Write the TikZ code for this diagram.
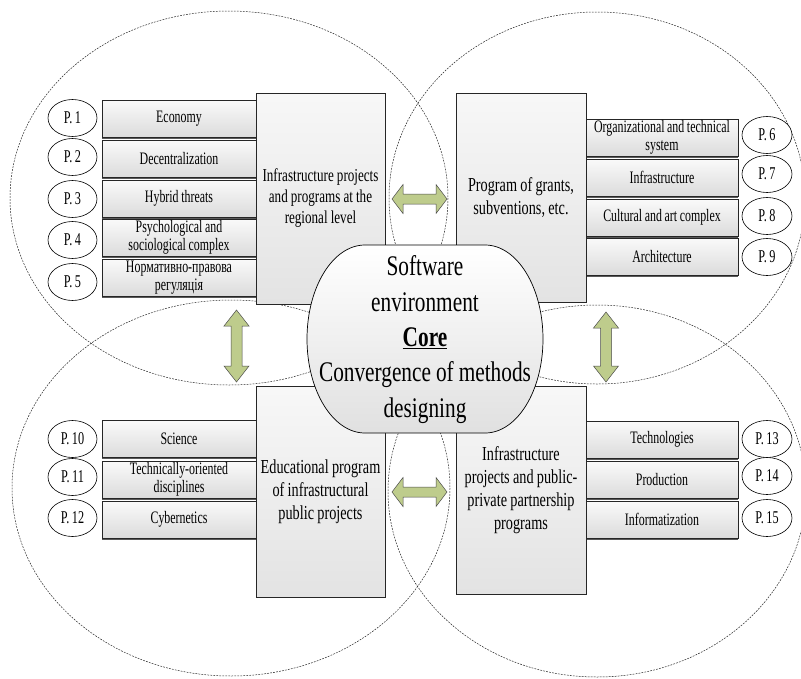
\documentclass[tikz,border=0pt]{standalone}
\usepackage{fontspec}
\setmainfont{Liberation Serif}[FakeStretch=0.75]
\newfontfamily\smallfnt{Liberation Serif}[FakeStretch=0.68]
\newfontfamily\bigfnt{Liberation Serif}[FakeStretch=0.72]
\newcommand\boxfont{\smallfnt\fontsize{17.5}{17.5}\selectfont\spaceskip 2.6pt\relax}
\newcommand\pfont{\smallfnt\fontsize{18}{18}\selectfont\spaceskip 2.6pt\relax}
\newcommand\grpfont{\bigfnt\fontsize{19.8}{23}\selectfont\spaceskip 3.3pt\relax}
\newcommand\grpfontsmall{\bigfnt\fontsize{18.2}{21}\selectfont\spaceskip 3.1pt\relax}
\newcommand\corefont{\fontsize{28.4}{35.4}\selectfont\spaceskip 5pt\relax}
\usetikzlibrary{shapes.geometric,shadows}
\definecolor{arrowgreen}{RGB}{190,204,140}
\newcommand\hdarrow[3]{% x1 x2 y
  \draw[blockarrow] (#1,#3) -- ({#1+11},{#3-14.5}) -- ({#1+11},{#3-5}) -- ({#2-11},{#3-5})
    -- ({#2-11},{#3-14.5}) -- (#2,#3) -- ({#2-11},{#3+14.5}) -- ({#2-11},{#3+5})
    -- ({#1+11},{#3+5}) -- ({#1+11},{#3+14.5}) -- cycle;}
\newcommand\vdarrow[3]{% x y1 y2
  \draw[blockarrow] (#1,#2) -- ({#1+12.5},{#2+16}) -- ({#1+5.5},{#2+16}) -- ({#1+5.5},{#3-16})
    -- ({#1+12.5},{#3-16}) -- (#1,#3) -- ({#1-12.5},{#3-16}) -- ({#1-5.5},{#3-16})
    -- ({#1-5.5},{#2+16}) -- ({#1-12.5},{#2+16}) -- cycle;}
\begin{document}
\begin{tikzpicture}[x=1pt,y=-1pt]
\tikzset{
  zone/.style={draw=black!85, line width=0.5pt, dash pattern=on 1.8pt off 1.2pt},
  sbox/.style={draw=black!85, line width=0.7pt, top color=black!2, bottom color=black!14,
    minimum width=154pt, minimum height=37pt, inner sep=0pt, align=center,
    font=\boxfont, drop shadow={shadow xshift=0pt, shadow yshift=-1.8pt, fill=black!65, opacity=1}},
  bbox/.style={draw=black!85, line width=0.7pt, top color=black!3, bottom color=black!11,
    inner sep=0pt, align=center, font=\grpfont,
    drop shadow={shadow xshift=1pt, shadow yshift=-1pt, fill=black!40, opacity=1}},
  plabel/.style={draw=black, ellipse, fill=white, line width=0.6pt, minimum width=49pt,
    minimum height=37pt, inner sep=0pt, font=\pfont},
  blockarrow/.style={draw=black!70, line width=0.5pt, fill=arrowgreen, line join=miter},
  corebox/.style={draw=black, line width=0.7pt, top color=white, bottom color=black!12},
}
\useasboundingbox (0,0) rectangle (801,678);
\fill[white] (0,0) rectangle (801,678);

% dashed zones
\draw[zone] (229,198) ellipse [x radius=219, y radius=187];
\draw[zone] (597,198) ellipse [x radius=208, y radius=186];
\draw[zone] (231,488) ellipse [x radius=219, y radius=188];
\draw[zone] (597,491) ellipse [x radius=209, y radius=186];

% top-left group
\node[sbox] (a1) at (179,118.5) {Economy};
\node[sbox] (a2) at (179,158.5) {Decentralization};
\node[sbox] (a3) at (179,198.5) {Hybrid threats};
\node[sbox] (a4) at (179,237.5) {Psychological and\\sociological complex};
\node[sbox] (a5) at (179,277.5) {Нормативно-правова\\регуляція};
\node[bbox, minimum width=129pt, minimum height=211pt, font=\grpfontsmall] (ga) at (320.5,198.5)
  {Infrastructure projects\\and programs at the\\regional level};
\node[plabel] (p1) at (72.5,118) {P. 1};
\node[plabel] (p2) at (72.5,157) {P. 2};
\node[plabel] (p3) at (72.5,199) {P. 3};
\node[plabel] (p4) at (72.5,240) {P. 4};
\node[plabel] (p5) at (72.5,282) {P. 5};

% top-right group
\node[sbox, minimum width=152pt] (b1) at (662,137.5) {Organizational and technical\\system};
\node[sbox, minimum width=152pt] (b2) at (662,177.5) {Infrastructure};
\node[sbox, minimum width=152pt] (b3) at (662,217.5) {Cultural and art complex};
\node[sbox, minimum width=152pt] (b4) at (662,256.5) {Architecture};
\node[bbox, minimum width=130pt, minimum height=209pt] (gb) at (521,197.5)
  {Program of grants,\\subventions, etc.};
\node[plabel, minimum width=50pt] (p6) at (767,135) {P. 6};
\node[plabel, minimum width=50pt] (p7) at (767,174) {P. 7};
\node[plabel, minimum width=50pt] (p8) at (767,216) {P. 8};
\node[plabel, minimum width=50pt] (p9) at (767,257) {P. 9};

% bottom-left group
\node[sbox] (c1) at (179,439) {Science};
\node[sbox] (c2) at (179,479.5) {Technically-oriented\\disciplines};
\node[sbox] (c3) at (179,519.5) {Cybernetics};
\node[bbox, minimum width=129pt, minimum height=211pt] (gc) at (320.5,491.5)
  {Educational program\\of infrastructural\\public projects};
\node[plabel] (p10) at (72.5,439) {P. 10};
\node[plabel] (p11) at (72.5,477) {P. 11};
\node[plabel] (p12) at (72.5,518) {P. 12};

% bottom-right group
\node[sbox, minimum width=152pt] (d1) at (662,439.5) {Technologies};
\node[sbox, minimum width=152pt] (d2) at (662,479.5) {Production};
\node[sbox, minimum width=152pt] (d3) at (662,519.5) {Informatization};
\node[bbox, minimum width=130pt, minimum height=208pt] (gd) at (521,490)
  {Infrastructure\\projects and public-\\private partnership\\programs};
\node[plabel, minimum width=50pt] (p13) at (767,439) {P. 13};
\node[plabel, minimum width=50pt] (p14) at (767,476) {P. 14};
\node[plabel, minimum width=50pt] (p15) at (767,518) {P. 15};

% block arrows
\hdarrow{392}{447}{199}
\hdarrow{392}{447}{492}
\vdarrow{236.5}{310}{382}
\vdarrow{606}{312}{382}

% core
\path[corebox] (365,245) -- (485,245)
  arc[start angle=-90, end angle=90, x radius=58, y radius=94]
  -- (365,433)
  arc[start angle=90, end angle=270, x radius=58, y radius=94] -- cycle;
\node[align=center, inner sep=0pt, font=\corefont] (core) at (425,339.5)
  {Software\\environment\\\underline{\textbf{Core}}\\Convergence of methods\\designing};
\end{tikzpicture}
\end{document}
